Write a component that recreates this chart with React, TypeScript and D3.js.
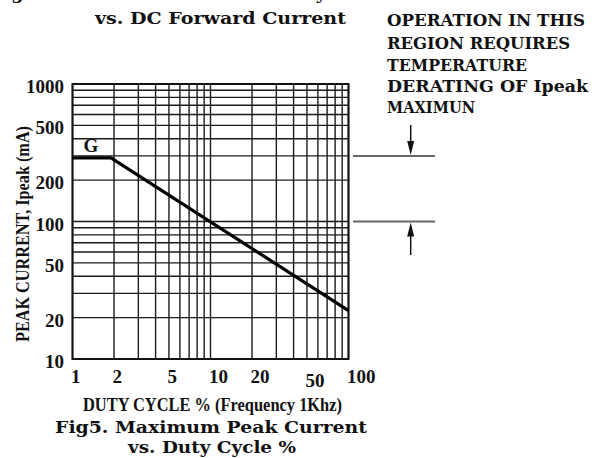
import React from "react";
import * as d3 from "d3";

// Data
const duty = [1, 1.9, 100];
const peakCurrent = [290, 290, 22.5];
const xTicks = [1, 2, 5, 10, 20, 50, 100];
const yTicks = [10, 20, 50, 100, 200, 500, 1000];
const xGrid = [1, 2, 3, 4, 5, 6, 7, 8, 9, 10, 20, 30, 40, 50, 60, 70, 80, 90, 100];
const yGrid = [10, 20, 30, 40, 50, 60, 70, 80, 90, 100, 200, 300, 400, 500, 600, 700, 800, 900, 1000];
const regionBounds = [300, 100];
const noteLines = ["OPERATION IN THIS", "REGION REQUIRES", "TEMPERATURE", "DERATING OF Ipeak", "MAXIMUN"];
const seriesLabel = "G";

const W = 602, H = 458;
const L = 72.5, R = 348.5, T = 84, B = 359;

const wide = "'DejaVu Serif', serif";
const narrow = "'Liberation Serif', 'Times New Roman', serif";

export default function App() {
  const x = d3.scaleLog().domain([1, 100]).range([L, R]);
  const y = d3.scaleLog().domain([10, 1000]).range([B, T]);
  const pts: [number, number][] = duty.map((d, i) => [d, peakCurrent[i]]);
  const line = d3.line<[number, number]>().x(d => x(d[0])).y(d => y(d[1]));

  const noteX = 387;
  const noteBase = [26, 49, 70.5, 91.5, 112.5];
  const noteW = [198, 183, 140, 201, 88];

  const yTop = y(regionBounds[0]);
  const yBot = y(regionBounds[1]);
  const ax = 410.7;

  return (
    <svg width={W} height={H} style={{ position: "absolute", left: 0, top: 0, background: "#fff" }}>
      <rect width={W} height={H} fill="#fff" />
      {/* cut-off caption from previous figure */}
      <text x={-8} y={-1} fontFamily={wide} fontWeight="bold" fontSize={17} textLength={334} lengthAdjust="spacingAndGlyphs" fill="#111">
        Fig4. Relative Luminous Intensity
      </text>
      <text x={95} y={24} fontFamily={wide} fontWeight="bold" fontSize={17} textLength={251} lengthAdjust="spacingAndGlyphs" fill="#111">
        vs. DC Forward Current
      </text>

      {noteLines.map((t, i) => (
        <text key={t} x={noteX} y={noteBase[i]} fontFamily={wide} fontWeight="bold" fontSize={17} textLength={noteW[i]} lengthAdjust="spacingAndGlyphs" fill="#111">
          {t}
        </text>
      ))}

      {/* grid */}
      {xGrid.map(v => (
        <line key={"gx" + v} x1={x(v)} x2={x(v)} y1={T} y2={B} stroke="#1a1a1a" strokeWidth={1.4} />
      ))}
      {yGrid.map(v => (
        <line key={"gy" + v} x1={L} x2={R} y1={y(v)} y2={y(v)} stroke="#1a1a1a" strokeWidth={1.4} />
      ))}
      <rect x={L} y={T} width={R - L} height={B - T} fill="none" stroke="#111" strokeWidth={2} />

      {/* curve */}
      <path d={line(pts) || ""} fill="none" stroke="#000" strokeWidth={3.2} />
      <text x={91} y={151.5} textAnchor="middle" fontFamily={narrow} fontWeight="bold" fontSize={19} fill="#111">
        {seriesLabel}
      </text>

      {/* y tick labels */}
      {yTicks.map(v => (
        <text key={"yt" + v} x={64} y={y(v) + 9} textAnchor="end" fontFamily={narrow} fontWeight="bold" fontSize={19} fill="#111">
          {v}
        </text>
      ))}
      {/* x tick labels */}
      {xTicks.map(v => (
        <text key={"xt" + v} x={x(v) - 1.5} y={383 + (v === 50 ? 3.5 : 0)} textAnchor="start" fontFamily={narrow} fontWeight="bold" fontSize={19} fill="#111">
          {v}
        </text>
      ))}

      {/* axis titles */}
      <text x={83} y={410.7} fontFamily={narrow} fontWeight="bold" fontSize={18} textLength={259} lengthAdjust="spacingAndGlyphs" fill="#111">
        DUTY CYCLE % (Frequency 1Khz)
      </text>
      <text transform="translate(28.5,342) rotate(-90)" x={0} y={0} fontFamily={narrow} fontWeight="bold" fontSize={18} textLength={216} lengthAdjust="spacingAndGlyphs" fill="#111">
        PEAK CURRENT, Ipeak (mA)
      </text>

      {/* caption */}
      <text x={55} y={432.5} fontFamily={wide} fontWeight="bold" fontSize={17} textLength={312} lengthAdjust="spacingAndGlyphs" fill="#111">
        Fig5. Maximum Peak Current
      </text>
      <text x={128} y={453} fontFamily={wide} fontWeight="bold" fontSize={17} textLength={168} lengthAdjust="spacingAndGlyphs" fill="#111">
        vs. Duty Cycle %
      </text>

      {/* region annotation */}
      <line x1={353} x2={435} y1={yTop} y2={yTop} stroke="#666" strokeWidth={2} />
      <line x1={353} x2={435} y1={yBot} y2={yBot} stroke="#666" strokeWidth={2} />
      <line x1={ax} x2={ax} y1={125} y2={yTop - 12} stroke="#111" strokeWidth={1.5} />
      <path d={`M${ax - 3.5},${yTop - 15} L${ax + 3.5},${yTop - 15} L${ax},${yTop - 1} Z`} fill="#111" />
      <line x1={ax} x2={ax} y1={yBot + 12} y2={255} stroke="#111" strokeWidth={1.5} />
      <path d={`M${ax - 3.5},${yBot + 15} L${ax + 3.5},${yBot + 15} L${ax},${yBot + 1} Z`} fill="#111" />
    </svg>
  );
}
